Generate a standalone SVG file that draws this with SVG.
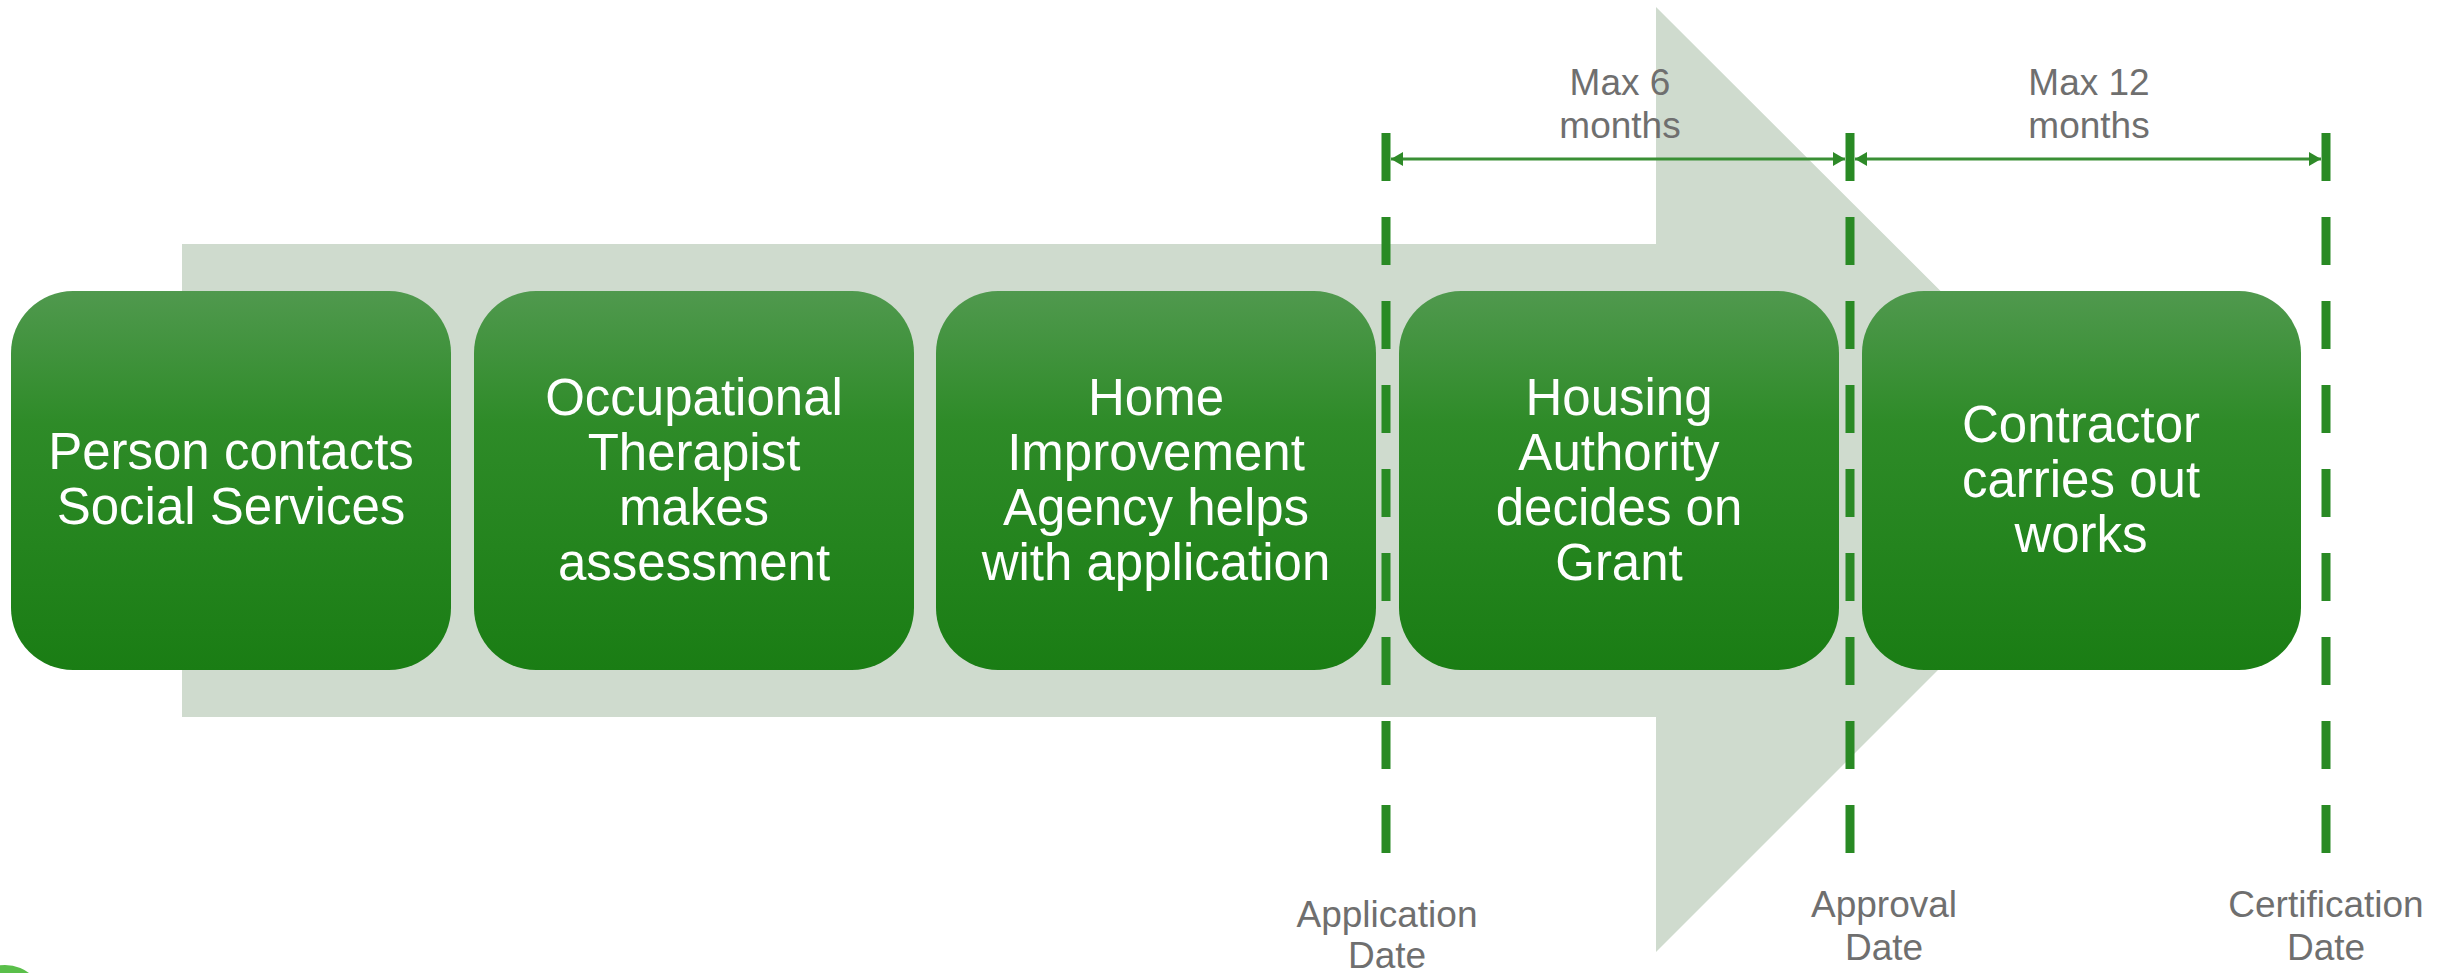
<svg xmlns="http://www.w3.org/2000/svg" width="2440" height="973" viewBox="0 0 2440 973">
<style>
.box{fill:url(#g);}
.bt{font-family:"Liberation Sans",Arial,sans-serif;font-size:51px;fill:#ffffff;text-anchor:middle;}
.lbl{font-family:"Liberation Sans",Arial,sans-serif;font-size:37px;fill:#6f6f6f;text-anchor:middle;}
.dash{stroke:#298a24;stroke-width:9;stroke-dasharray:48 36;fill:none;}
.dim{stroke:#3a8f35;stroke-width:3;fill:none;marker-start:url(#ah);marker-end:url(#ah);}
</style>
<defs>
<linearGradient id="g" x1="0" y1="0" x2="0" y2="1">
<stop offset="0" stop-color="#50994e"/>
<stop offset="0.35" stop-color="#2e8b28"/>
<stop offset="1" stop-color="#1a7d14"/>
</linearGradient>
<marker id="ah" viewBox="0 0 12 14" refX="12" refY="7" markerWidth="12" markerHeight="14" markerUnits="userSpaceOnUse" orient="auto-start-reverse">
<path d="M0,0 L12,7 L0,14 Z" fill="#2e8a28"/>
</marker>
</defs>
<rect width="2440" height="973" fill="#ffffff"/>
<g id="bigArrow">
<polygon points="182,244 1656,244 1656,7 2129,479 1656,952 1656,717 182,717" fill="#cfdbce"/>
</g>
<g id="n1"><rect class="box" x="11" y="291" width="440" height="379" rx="62"/>
<text class="bt" x="231" y="469">Person contacts</text><text class="bt" x="231" y="524">Social Services</text></g>
<g id="n2"><rect class="box" x="474" y="291" width="440" height="379" rx="62"/>
<text class="bt" x="694" y="415">Occupational</text><text class="bt" x="694" y="470">Therapist</text><text class="bt" x="694" y="525">makes</text><text class="bt" x="694" y="580">assessment</text></g>
<g id="n3"><rect class="box" x="936" y="291" width="440" height="379" rx="62"/>
<text class="bt" x="1156" y="415">Home</text><text class="bt" x="1156" y="470">Improvement</text><text class="bt" x="1156" y="525">Agency helps</text><text class="bt" x="1156" y="580">with application</text></g>
<g id="n4"><rect class="box" x="1399" y="291" width="440" height="379" rx="62"/>
<text class="bt" x="1619" y="415">Housing</text><text class="bt" x="1619" y="470">Authority</text><text class="bt" x="1619" y="525">decides on</text><text class="bt" x="1619" y="580">Grant</text></g>
<g id="n5"><rect class="box" x="1862" y="291" width="439" height="379" rx="62"/>
<text class="bt" x="2081" y="442">Contractor</text><text class="bt" x="2081" y="497">carries out</text><text class="bt" x="2081" y="552">works</text></g>
<g id="connectors">
<line class="dash" x1="1386" y1="133" x2="1386" y2="853"/>
<line class="dash" x1="1850" y1="133" x2="1850" y2="853"/>
<line class="dash" x1="2326" y1="133" x2="2326" y2="853"/>
<line class="dim" x1="1391" y1="159" x2="1845" y2="159"/>
<line class="dim" x1="1855" y1="159" x2="2321" y2="159"/>
</g>
<g id="labels">
<text class="lbl" x="1620" y="95">Max 6</text><text class="lbl" x="1620" y="138">months</text>
<text class="lbl" x="2089" y="95">Max 12</text><text class="lbl" x="2089" y="138">months</text>
<text class="lbl" x="1387" y="927">Application</text><text class="lbl" x="1387" y="968">Date</text>
<text class="lbl" x="1884" y="917">Approval</text><text class="lbl" x="1884" y="960">Date</text>
<text class="lbl" x="2326" y="917">Certification</text><text class="lbl" x="2326" y="960">Date</text>
</g>
<g id="corner"><circle cx="5" cy="1005" r="40" fill="#5abf4a"/></g>
</svg>
